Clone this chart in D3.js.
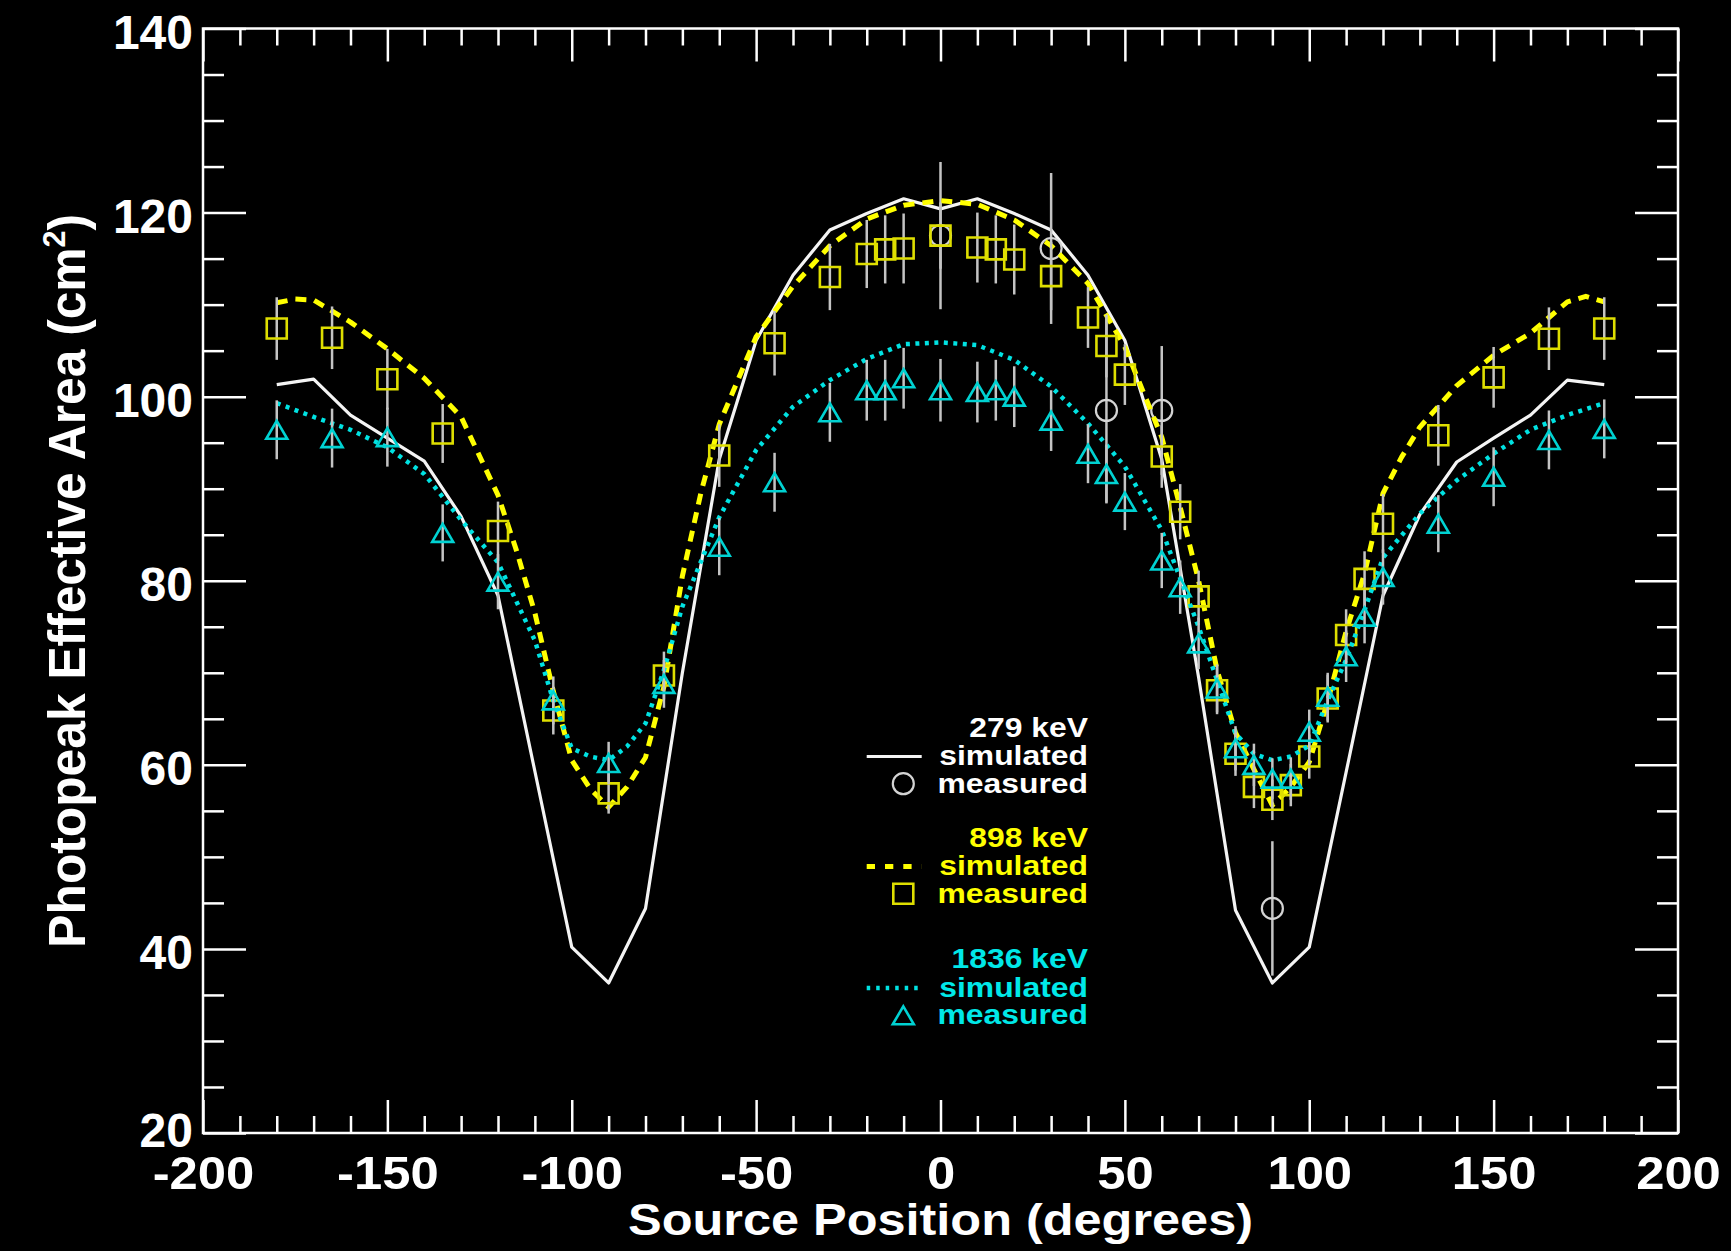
<!DOCTYPE html>
<html>
<head>
<meta charset="utf-8">
<script src="https://cdn.jsdelivr.net/npm/d3@7"></script>
<style>
  html, body { margin: 0; padding: 0; background: #000; }
  svg { display: block; background: #000; }
  text { font-family: "Liberation Sans", Arial, Helvetica, sans-serif; font-weight: bold; }
</style>
</head>
<body>
<svg id="chart" width="1731" height="1251"></svg>
<script>
// ---- Simulated photopeak effective area (cm^2) vs source angle (degrees) ----
const simAngles279 = [-180,-170,-160,-150,-140,-130,-120,-110,-100,-90,-80,-70,-60,-50,-40,-30,-20,-10,0,
                      10,20,30,40,50,60,70,80,90,100,110,120,130,140,150,160,170,180];
const sim279 = [101.3,101.9,98.0,95.5,93.0,87.0,78.4,59.3,40.2,36.3,44.4,70.0,93.2,106.1,113.2,118.1,119.9,121.5,120.4,
                121.5,119.9,118.1,113.2,106.1,93.2,69.5,44.2,36.3,40.2,59.2,78.4,87.2,92.9,95.5,98.0,101.8,101.3];

const simAngles898 = [-180,-175,-170,-160,-150,-140,-130,-120,-115,-110,-105,-100,-95,-90,-85,-80,-75,-70,-65,-60,
                      -50,-40,-30,-20,-10,0,10,20,30,40,50,60,65,70,75,80,85,90,95,100,105,110,115,120,125,130,
                      140,150,160,170,175,180];
const sim898 = [110.2,110.6,110.5,108.1,105.2,102.0,97.8,89.3,83.3,76.5,68.0,60.5,57.4,55.4,57.6,60.8,68.5,80.5,89.5,97.0,
                106.5,112.0,116.4,119.3,120.8,121.3,120.9,119.2,116.4,112.3,105.4,95.6,88.0,80.0,70.3,63.5,59.5,55.6,57.6,60.3,
                66.9,74.5,80.8,89.5,93.4,96.7,101.2,104.5,106.9,110.3,110.9,110.3];

const simAngles1836 = [-180,-170,-160,-150,-140,-130,-120,-110,-105,-100,-95,-90,-85,-80,-75,-70,-60,-50,-40,-30,-20,-10,0,
                       10,20,30,40,50,60,70,75,80,85,90,95,100,105,110,115,120,130,140,150,160,170,180];
const sim1836 = [99.3,97.8,96.4,94.5,91.6,86.6,82.0,73.5,67.0,61.8,60.9,60.5,62.0,64.5,70.3,77.2,86.9,94.2,98.9,101.8,104.1,105.7,105.9,
                 105.6,104.0,101.1,97.1,92.4,85.5,75.0,69.2,63.4,61.2,60.5,60.9,62.1,67.0,71.4,76.8,82.5,87.3,90.9,93.8,96.4,98.0,99.3];

// ---- Measured values with 1-sigma errors ----
const measAngles279 = [0, 30, 45, 60, 90];
const meas279 = [117.5, 116.1, 98.5, 98.5, 44.4];
const measErr279 = [8.0, 8.2, 10.0, 7.0, 7.3];

const measAngles = [-180,-165,-150,-135,-120,-105,-90,-75,-60,-45,-30,-20,-15,-10,0,10,15,20,30,40,45,50,60,65,70,
                    75,80,85,90,95,100,105,110,115,120,135,150,165,180];
const meas898 = [107.4,106.4,101.9,96.0,85.4,65.9,56.9,69.7,93.6,105.8,113.0,115.5,116.0,116.1,117.5,116.2,116.0,114.9,113.1,108.6,105.5,102.4,93.5,87.5,78.3,
                 68.1,61.2,57.6,56.2,57.8,60.9,67.2,74.1,80.2,86.2,95.8,102.1,106.3,107.4];
const measErr898 = [3.4,3.4,3.3,3.2,3.2,2.6,2.2,2.6,3.4,3.5,3.6,3.7,3.7,3.8,3.6,3.8,3.7,3.8,3.7,3.3,3.4,3.3,3.4,3.0,2.8,
                    2.6,2.4,2.3,2.2,2.3,2.4,2.6,2.8,3.0,3.2,3.3,3.3,3.4,3.4];
const meas1836 = [96.4,95.5,95.6,85.2,79.9,67.0,60.2,68.8,83.7,90.7,98.3,100.7,100.7,102.0,100.7,100.5,100.7,100.0,97.4,93.8,91.6,88.6,82.2,79.3,73.2,
                  68.3,61.8,60.0,58.5,58.5,63.6,67.4,71.8,76.1,80.4,86.2,91.3,95.3,96.5];
const measErr1836 = [3.2,3.2,3.2,3.1,3.0,2.6,2.3,2.6,3.1,3.2,3.2,3.3,3.3,3.3,3.4,3.3,3.3,3.3,3.3,3.2,3.2,3.1,3.0,2.9,2.8,
                     2.6,2.4,2.3,2.2,2.3,2.4,2.6,2.8,2.9,3.0,3.1,3.2,3.2,3.2];

// ---- Axis ticks and text ----
const xMajorTicks = [-200,-150,-100,-50,0,50,100,150,200];
const yMajorTicks = [20,40,60,80,100,120,140];
const xTitle = "Source Position (degrees)";
const yTitleMain = "Photopeak Effective Area (cm";
const yTitleSup = "2";
const energies = ["279 keV", "898 keV", "1836 keV"];
const simLabel = "simulated";
const measLabel = "measured";

// ---- Layout ----
const svg = d3.select("#chart");
const plot = { left: 203, right: 1678, top: 28.5, bottom: 1133 };
const x = d3.scaleLinear().domain([-200, 200]).range([plot.left, plot.right]);
const y = d3.scaleLinear().domain([20, 140]).range([plot.bottom, plot.top]);

const xMinorTicks = d3.range(-190, 200, 10).filter(v => v % 50 !== 0);
const yMinorTicks = d3.range(25, 140, 5).filter(v => v % 20 !== 0);

// Stretch text glyphs horizontally by a factor k
function stretch(sel, k) {
  sel.each(function () {
    const w = this.getComputedTextLength();
    if (w > 0) {
      d3.select(this).attr("textLength", w * k).attr("lengthAdjust", "spacingAndGlyphs");
    }
  });
}

function styleAxis(g) {
  g.attr("font-family", null).attr("font-size", null);
  g.select(".domain").remove();
  g.selectAll(".tick line").attr("stroke", "#fff").attr("stroke-width", 2.5);
  g.selectAll(".tick text").attr("fill", "#fff");
}

// Bottom axis: major ticks with labels, minor ticks without
const gBottom = svg.append("g").attr("transform", `translate(0,${plot.bottom})`)
  .call(d3.axisBottom(x).tickValues(xMajorTicks).tickSize(-33).tickSizeOuter(0).tickFormat(d => String(d)))
  .call(styleAxis);
gBottom.selectAll(".tick text").attr("y", 56).attr("dy", null).style("font-size", "47px");
stretch(gBottom.selectAll(".tick text"), 1.08);

svg.append("g").attr("transform", `translate(0,${plot.bottom})`)
  .call(d3.axisBottom(x).tickValues(xMinorTicks).tickSize(-17).tickSizeOuter(0).tickFormat(""))
  .call(styleAxis);

// Top axis (ticks only)
svg.append("g").attr("transform", `translate(0,${plot.top})`)
  .call(d3.axisTop(x).tickValues(xMajorTicks).tickSize(-33).tickSizeOuter(0).tickFormat(""))
  .call(styleAxis);
svg.append("g").attr("transform", `translate(0,${plot.top})`)
  .call(d3.axisTop(x).tickValues(xMinorTicks).tickSize(-17).tickSizeOuter(0).tickFormat(""))
  .call(styleAxis);

// Left axis with labels
const gLeft = svg.append("g").attr("transform", `translate(${plot.left},0)`)
  .call(d3.axisLeft(y).tickValues(yMajorTicks).tickSize(-43).tickSizeOuter(0).tickPadding(10).tickFormat(d => String(d)))
  .call(styleAxis);
gLeft.selectAll(".tick text").attr("dy", null)
  .attr("y", d => d === yMajorTicks[0] ? 13 : 20)
  .style("font-size", "48px");

svg.append("g").attr("transform", `translate(${plot.left},0)`)
  .call(d3.axisLeft(y).tickValues(yMinorTicks).tickSize(-21).tickSizeOuter(0).tickFormat(""))
  .call(styleAxis);

// Right axis (ticks only)
svg.append("g").attr("transform", `translate(${plot.right},0)`)
  .call(d3.axisRight(y).tickValues(yMajorTicks).tickSize(-43).tickSizeOuter(0).tickFormat(""))
  .call(styleAxis);
svg.append("g").attr("transform", `translate(${plot.right},0)`)
  .call(d3.axisRight(y).tickValues(yMinorTicks).tickSize(-21).tickSizeOuter(0).tickFormat(""))
  .call(styleAxis);

// Plot frame
svg.append("rect")
  .attr("x", plot.left).attr("y", plot.top)
  .attr("width", plot.right - plot.left).attr("height", plot.bottom - plot.top)
  .attr("fill", "none").attr("stroke", "#fff").attr("stroke-width", 2.5);

// Axis titles
const xt = svg.append("text")
  .attr("x", (plot.left + plot.right) / 2).attr("y", 1235)
  .attr("text-anchor", "middle").attr("fill", "#fff")
  .style("font-size", "44px")
  .text(xTitle);
xt.attr("textLength", 625).attr("lengthAdjust", "spacingAndGlyphs");

const yt = svg.append("text")
  .attr("text-anchor", "middle").attr("fill", "#fff")
  .style("font-size", "52px");
yt.append("tspan").text(yTitleMain);
yt.append("tspan").attr("dy", -20).style("font-size", "32px").text(yTitleSup);
yt.append("tspan").attr("dy", 20).text(")");
{
  const w = yt.node().getComputedTextLength();
  const k = 734 / w;
  yt.attr("transform", `translate(85,${(plot.top + plot.bottom) / 2}) rotate(-90) scale(${k},1)`);
}

// ---- Series styles ----
const styles = {
  s279:  { line: "#f4f4f4", width: 3.2, dash: null,    marker: "#d4d4d4" },
  s898:  { line: "#ffff00", width: 5,   dash: "11,8",  marker: "#dede00" },
  s1836: { line: "#00e2e2", width: 4.5, dash: "4,5.5", marker: "#00d2d2" }
};
const errColor = "#c4c4c4";

const lineGen = d3.line().x(d => x(d[0])).y(d => y(d[1]));
const layer = svg.append("g");

function drawLine(angles, values, st) {
  layer.append("path")
    .datum(angles.map((a, i) => [a, values[i]]))
    .attr("d", lineGen)
    .attr("fill", "none")
    .attr("stroke", st.line)
    .attr("stroke-width", st.width)
    .attr("stroke-linejoin", "round")
    .attr("stroke-dasharray", st.dash);
}

function drawErrors(angles, values, errs) {
  layer.append("g").selectAll("line")
    .data(angles.map((a, i) => [a, values[i], errs[i]]))
    .join("line")
    .attr("x1", d => x(d[0])).attr("x2", d => x(d[0]))
    .attr("y1", d => y(d[1] - d[2])).attr("y2", d => y(d[1] + d[2]))
    .attr("stroke", errColor).attr("stroke-width", 2.5);
}

const markerPaths = {
  circle: "M10.5,0A10.5,10.5 0 1,1 -10.5,0A10.5,10.5 0 1,1 10.5,0Z",
  square: "M-10,-10H10V10H-10Z",
  triangle: "M0,-9L10.5,9L-10.5,9Z"
};

function drawMarkers(angles, values, shape, color) {
  layer.append("g").selectAll("path")
    .data(angles.map((a, i) => [a, values[i]]))
    .join("path")
    .attr("transform", d => `translate(${x(d[0])},${y(d[1])})`)
    .attr("d", markerPaths[shape])
    .attr("fill", "none")
    .attr("stroke", color)
    .attr("stroke-width", shape === "circle" ? 2.2 : 2.6);
}

// 279 keV
drawLine(simAngles279, sim279, styles.s279);
drawErrors(measAngles279, meas279, measErr279);
drawMarkers(measAngles279, meas279, "circle", styles.s279.marker);
// 898 keV
drawLine(simAngles898, sim898, styles.s898);
drawErrors(measAngles, meas898, measErr898);
drawMarkers(measAngles, meas898, "square", styles.s898.marker);
// 1836 keV
drawLine(simAngles1836, sim1836, styles.s1836);
drawErrors(measAngles, meas1836, measErr1836);
drawMarkers(measAngles, meas1836, "triangle", styles.s1836.marker);

// ---- Legend ----
const legend = svg.append("g");
const legendRight = 1088;
const sampleX0 = 866.7, sampleX1 = 921.7, markerX = 903.3;
const groupTops = [736.7, 846.7, 968.3];
const textColors = ["#ffffff", "#ffff00", "#00e8e8"];
const legendStyles = [
  { st: styles.s279, shape: "circle" },
  { st: styles.s898, shape: "square", dash: "8.3,10" },
  { st: styles.s1836, shape: "triangle", dash: "3.5,6" }
];

energies.forEach((label, i) => {
  const base = groupTops[i];
  const ls = legendStyles[i];
  const lines = [label, simLabel, measLabel];
  const offs = [0, 28.3, 56];
  lines.forEach((t, j) => {
    const el = legend.append("text")
      .attr("x", legendRight).attr("y", base + offs[j])
      .attr("text-anchor", "end").attr("fill", textColors[i])
      .style("font-size", "27px")
      .text(t);
    stretch(el, 1.18);
  });
  legend.append("line")
    .attr("x1", sampleX0).attr("x2", sampleX1)
    .attr("y1", base + offs[1] - 8.5).attr("y2", base + offs[1] - 8.5)
    .attr("stroke", ls.st.line).attr("stroke-width", ls.st.width)
    .attr("stroke-dasharray", ls.dash || ls.st.dash);
  legend.append("path")
    .attr("transform", `translate(${markerX},${base + offs[2] - 9})`)
    .attr("d", markerPaths[ls.shape])
    .attr("fill", "none")
    .attr("stroke", ls.st.marker)
    .attr("stroke-width", ls.shape === "circle" ? 2.2 : 2.6);
});
</script>
</body>
</html>
